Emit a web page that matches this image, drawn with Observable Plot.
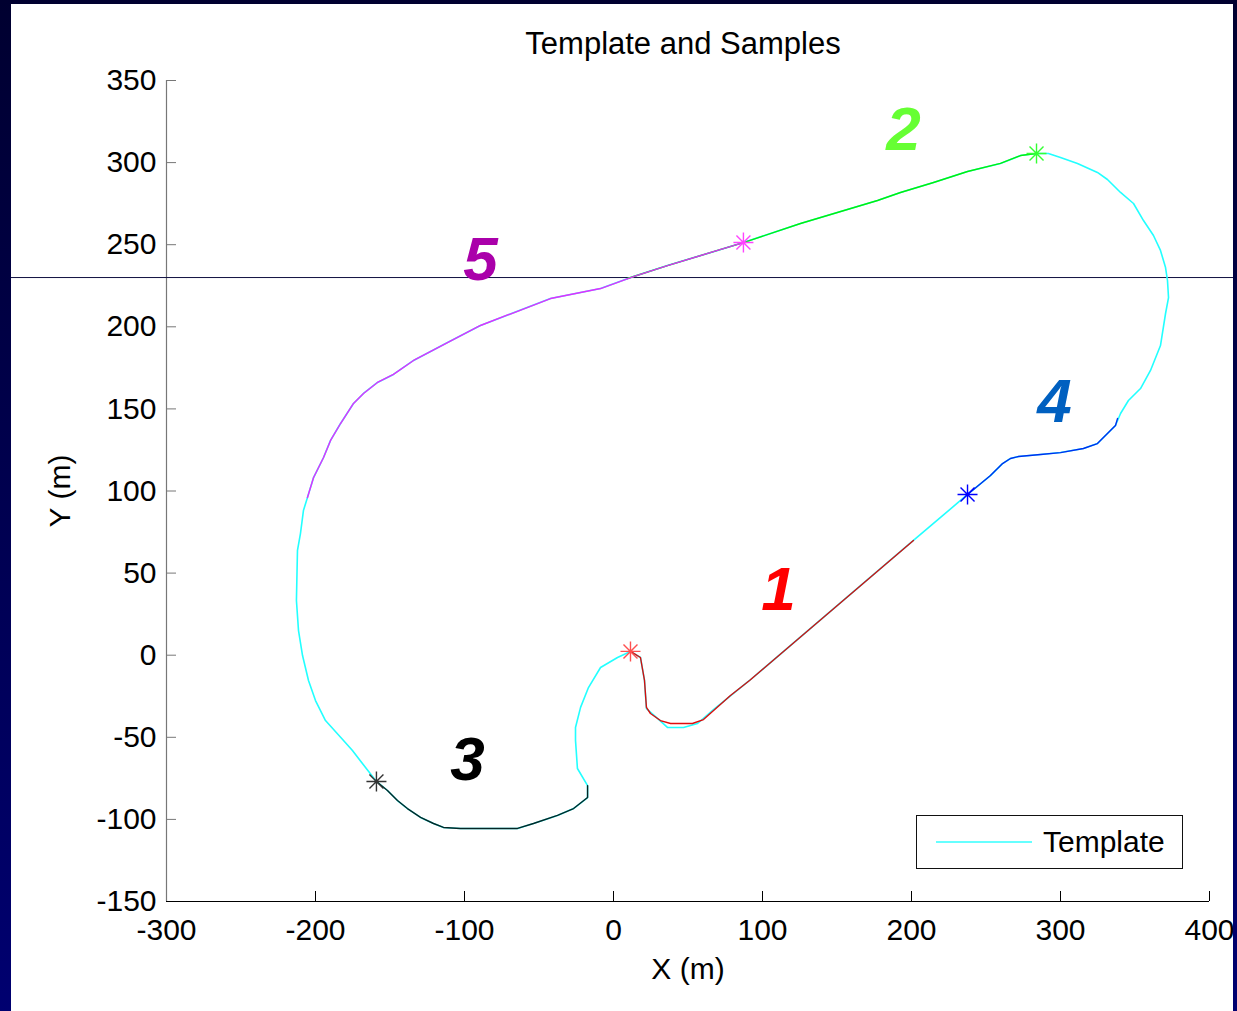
<!DOCTYPE html>
<html>
<head>
<meta charset="utf-8">
<script src="https://cdn.jsdelivr.net/npm/d3@7"></script>
<script src="https://cdn.jsdelivr.net/npm/@observablehq/plot@0.6"></script>
<style>
  html, body { margin: 0; padding: 0; }
  body {
    width: 1237px; height: 1011px; overflow: hidden;
    background: linear-gradient(#000030, #000070);
    font-family: "Liberation Sans", Arial, sans-serif;
  }
  #fig {
    position: absolute; left: 11px; top: 4px; width: 1222px; height: 1007px;
    background: white; overflow: hidden;
  }
  #title {
    padding-top: 25px; padding-left: 122px; height: 28px; line-height: 30px;
    text-align: center; font-size: 31px; color: black; white-space: nowrap;
  }
  #chart svg { overflow: visible; display: block; }
  #legend {
    position: absolute; left: 905px; top: 811px; width: 267px; height: 54px;
    box-sizing: border-box; border: 1.5px solid #111; background: white;
  }
  #legend .swatch { position: absolute; left: 19px; top: 25px; width: 96px; height: 2px; background: #66ffff; }
  #legend .label { position: absolute; left: 126px; top: 0; line-height: 51px; font-size: 30px; color: black; }
</style>
</head>
<body>
<div id="fig">
  <div id="title">Template and Samples</div>
  <div id="chart"></div>
  <div id="legend"><span class="swatch"></span><span class="label">Template</span></div>
</div>
<script>
// Axis ticks
const xTicks = [-300, -200, -100, 0, 100, 200, 300, 400];
const yTicks = [-150, -100, -50, 0, 50, 100, 150, 200, 250, 300, 350];

// Template track (closed loop, metres)
const templateX = [11.4, 18.1, 20.8, 22.1, 29.5, 36.2, 47.0, 56.4, 67.1, 91.3, 201.3, 219.5, 237.6,
  253.0, 261.1, 266.4, 271.8, 286.6, 300.0, 315.4, 324.8, 336.9, 340.3, 345.6, 353.7, 360.4, 367.1,
  370.5, 372.5, 371.8, 370.5, 367.1, 362.4, 355.7, 349.0, 340.3, 331.5, 324.8, 311.4, 300.0, 291.9,
  283.9, 273.2, 259.7, 237.6, 214.8, 192.6, 177.2, 125.5, 87.2, 69.8, 36.2, 13.4, -8.7, -42.3, -89.3,
  -111.4, -134.2, -147.7, -158.4, -167.8, -174.5, -183.2, -189.9, -194.6, -201.3, -205.4, -208.1,
  -210.1, -212.1, -212.8, -211.4, -208.7, -204.7, -200.0, -193.3, -181.2, -175.2, -168.5, -159.1,
  -151.7, -145.0, -138.3, -129.5, -120.8, -114.1, -102.7, -64.4, -53.7, -37.6, -26.8, -17.4, -17.4,
  -24.2, -25.5, -25.5, -22.1, -16.8, -8.7, 2.7, 11.4];
const templateY = [2.3, -1.4, -15.4, -32.5, -38.5, -44.0, -44.0, -41.6, -33.1, -15.4, 69.9, 83.9, 97.9,
  109.4, 116.7, 119.8, 121.0, 122.2, 123.4, 125.9, 128.9, 139.9, 147.2, 155.1, 162.4, 173.4, 188.6,
  208.1, 217.8, 228.2, 236.1, 246.5, 255.6, 264.7, 275.1, 281.8, 289.7, 294.0, 299.5, 303.1, 305.5,
  305.5, 304.3, 299.5, 294.6, 287.9, 281.8, 276.9, 262.9, 251.3, 246.5, 237.3, 230.6, 223.3, 217.2,
  200.8, 190.4, 179.5, 171.0, 166.1, 159.4, 153.3, 141.1, 130.8, 120.4, 108.2, 96.0, 88.1, 74.1,
  63.8, 33.3, 15.0, -0.2, -15.4, -27.6, -39.8, -51.9, -58.0, -66.0, -76.9, -82.4, -88.5, -93.4,
  -98.8, -102.5, -104.9, -105.5, -105.5, -102.5, -97.6, -93.4, -86.7, -79.4, -69.0, -51.9, -44.0,
  -31.8, -19.7, -7.5, -1.4, 2.3];

// Sample 1 (red)
const sample1X = [11.4, 18.1, 20.8, 22.1, 24.8, 31.5, 38.3, 53.0, 60.4, 78.5, 91.3, 201.3];
const sample1Y = [2.3, -1.4, -15.4, -31.8, -35.5, -39.8, -41.6, -41.6, -39.2, -24.5, -15.4, 69.9];
// Sample 2 (green)
const sample2X = [283.9, 273.2, 259.7, 237.6, 214.8, 192.6, 177.2, 125.5, 87.2, 69.8, 36.2, 9.4];
const sample2Y = [305.5, 304.3, 299.5, 294.6, 287.9, 281.8, 276.9, 262.9, 251.3, 246.5, 237.3, 229.4];
// Sample 3 (black)
const sample3X = [-159.1, -151.7, -145.0, -138.3, -129.5, -120.8, -114.1, -102.7, -64.4, -53.7, -37.6, -26.8, -17.4, -17.4];
const sample3Y = [-76.9, -82.4, -88.5, -93.4, -98.8, -102.5, -104.9, -105.5, -105.5, -102.5, -97.6, -93.4, -86.7, -79.4];
// Sample 4 (blue)
const sample4X = [237.6, 253.0, 261.1, 266.4, 271.8, 286.6, 300.0, 315.4, 324.8, 336.9, 338.3];
const sample4Y = [97.9, 109.4, 116.7, 119.8, 121.0, 122.2, 123.4, 125.9, 128.9, 139.9, 144.2];
// Sample 5 (magenta)
const sample5X = [87.2, 69.8, 36.2, 13.4, -8.7, -42.3, -89.3, -111.4, -134.2, -147.7, -158.4, -167.8, -174.5, -183.2, -189.9, -194.6, -201.3, -205.4];
const sample5Y = [251.3, 246.5, 237.3, 230.6, 223.3, 217.2, 200.8, 190.4, 179.5, 171.0, 166.1, 159.4, 153.3, 141.1, 130.8, 120.4, 108.2, 96.0];

// Sample start markers and their labels
const sampleIds = ["1", "2", "3", "4", "5"];
const lineColors = ["#e00000", "#00ee00", "#000000", "#0022ee", "#ee22ff"];
const starColors = ["#ff5050", "#33ff33", "#333333", "#0000ff", "#ff44ff"];
const labelColors = ["#ff0000", "#66ff33", "#000000", "#0060c0", "#aa00aa"];
const labelX = [110.7, 194.6, -98.0, 295.9, -89.3];
const labelY = [39.4, 319.6, -64.1, 153.9, 240.4];

// Horizontal reference line across the figure
const refLineY = 230;
const refLineX1 = -420;
const refLineX2 = 430;

const xLabel = "X (m)";
const yLabel = "Y (m)";

const toPoints = (xs, ys) => xs.map((x, i) => ({x, y: ys[i]}));
const template = toPoints(templateX, templateY);
const samples = [
  toPoints(sample1X, sample1Y),
  toPoints(sample2X, sample2Y),
  toPoints(sample3X, sample3Y),
  toPoints(sample4X, sample4Y),
  toPoints(sample5X, sample5Y)
];
const starts = samples.map((s, i) => ({...s[0], color: starColors[i]}));
const labels = sampleIds.map((id, i) => ({id, x: labelX[i], y: labelY[i], color: labelColors[i]}));

// MATLAB-style '*' marker
const asterisk = {
  draw(ctx, size) {
    const r = Math.sqrt(size / Math.PI);
    const d = r * 0.7;
    ctx.moveTo(-r, 0); ctx.lineTo(r, 0);
    ctx.moveTo(0, -r); ctx.lineTo(0, r);
    ctx.moveTo(-d, -d); ctx.lineTo(d, d);
    ctx.moveTo(-d, d); ctx.lineTo(d, -d);
  }
};

const fmt = d => String(d);

const chart = Plot.plot({
  width: 1222,
  height: 954,
  marginLeft: 155,
  marginRight: 24,
  marginTop: 23,
  marginBottom: 110,
  x: {domain: [-300, 400]},
  y: {domain: [-150, 350]},
  style: {
    fontFamily: "'Liberation Sans', Arial, sans-serif",
    fontSize: "30px",
    background: "white",
    color: "black",
    overflow: "visible"
  },
  marks: [
    Plot.axisX(xTicks, {tickSize: -10, tickPadding: 27, tickFormat: fmt, label: null, stroke: "#000"}),
    Plot.axisY(yTicks, {tickSize: -10, tickPadding: 20, tickFormat: fmt, label: null, stroke: "#777"}),
    Plot.ruleX([-300], {stroke: "#777", strokeWidth: 1.2}),
    Plot.ruleY([-150], {stroke: "#000", strokeWidth: 1.2}),
    Plot.ruleY([refLineY], {x1: refLineX1, x2: refLineX2, stroke: "#101040", strokeWidth: 1}),
    Plot.line(template, {x: "x", y: "y", stroke: "#22ffff", strokeWidth: 1.6}),
    ...samples.map((s, i) => Plot.line(s, {x: "x", y: "y", stroke: lineColors[i], strokeWidth: 1.4, strokeOpacity: i === 2 ? 0.85 : 0.95})),
    Plot.dot(starts, {x: "x", y: "y", r: 10, symbol: asterisk, fill: "none", stroke: "color", strokeWidth: 1.4}),
    Plot.text(labels, {x: "x", y: "y", text: "id", fill: "color", fontSize: 62, fontWeight: "bold", fontStyle: "italic"}),
    Plot.text([xLabel], {text: d => d, frameAnchor: "bottom", textAnchor: "middle", lineAnchor: "middle", dy: 68}),
    Plot.text([yLabel], {text: d => d, frameAnchor: "left", textAnchor: "middle", lineAnchor: "middle", rotate: -90, dx: -106})
  ]
});

document.getElementById("chart").appendChild(chart);
</script>
</body>
</html>
